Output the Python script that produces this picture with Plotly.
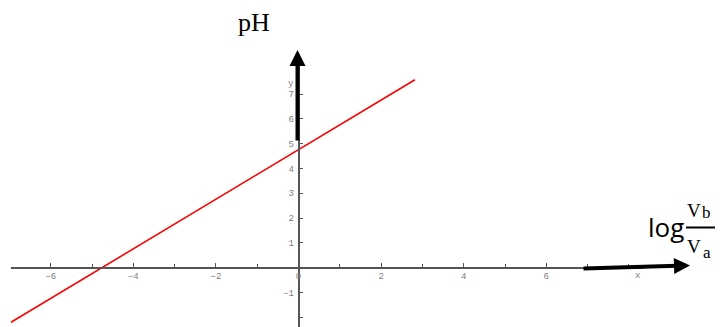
import plotly.graph_objects as go

# values
log_ratio = [-7.0, 2.82]
ph_values = [-2.24, 7.58]

x_major = [-6, -4, -2, 0, 2, 4, 6]
y_major = [-2, -1, 1, 2, 3, 4, 5, 6, 7]
y_labels = ["", "\u22121", "1", "2", "3", "4", "5", "6", "7"]

W, H = 723, 327
PAGE_OFFSET = 8  # the page body margin shifts the figure by this much


def px(x):
    return (x - PAGE_OFFSET) / W


def py(y):
    return 1 - (y - PAGE_OFFSET) / H


X0_PX, Y0_PX = 298.5, 267.7   # screen position of the origin
X_SCALE, Y_SCALE = 41.3, 24.8  # pixels per unit

x_left, x_right = 11, 643
y_top, y_bottom = 65, 335
x_dom = [px(x_left), px(x_right)]
y_dom = [max(py(y_bottom), 0.0), py(y_top)]
x_range = [(x_left - X0_PX) / X_SCALE, (x_right - X0_PX) / X_SCALE]
y_range = [(Y0_PX - (PAGE_OFFSET + H)) / Y_SCALE, (Y0_PX - y_top) / Y_SCALE]

TICK_FONT = dict(family="Liberation Mono, Courier New, monospace", size=9, color="#808080")
AXIS_COLOR = "#555"

fig = go.Figure(
    go.Scatter(
        x=log_ratio,
        y=ph_values,
        mode="lines",
        line=dict(color="#ff0000", width=1.6),
        hoverinfo="skip",
    )
)

fig.update_xaxes(
    domain=x_dom,
    range=x_range,
    anchor="free",
    position=py(Y0_PX),
    automargin=False,
    showgrid=False,
    zeroline=False,
    showline=True,
    linecolor=AXIS_COLOR,
    linewidth=1.5,
    ticks="inside",
    ticklen=4,
    tickcolor=AXIS_COLOR,
    tickwidth=1,
    tickvals=x_major,
    ticktext=[str(v).replace("-", "\u2212") for v in x_major],
    tickfont=TICK_FONT,
    minor=dict(dtick=1, tick0=1, ticks="inside", ticklen=3, tickcolor=AXIS_COLOR, showgrid=False),
)
fig.update_yaxes(
    domain=y_dom,
    range=y_range,
    anchor="free",
    position=px(X0_PX),
    automargin=False,
    showgrid=False,
    zeroline=False,
    showline=True,
    linecolor=AXIS_COLOR,
    linewidth=1.5,
    ticks="inside",
    ticklen=4,
    tickcolor=AXIS_COLOR,
    tickwidth=1,
    tickvals=y_major,
    ticktext=y_labels,
    tickfont=TICK_FONT,
    ticklabelstandoff=2,
)


def label(x, y, text, font, xanchor="center"):
    fig.add_annotation(x=px(x), y=py(y), xref="paper", yref="paper",
                       xanchor=xanchor, yanchor="middle",
                       text=text, showarrow=False, font=font)


# axis labels
label(291, 84, "y", TICK_FONT)
label(637, 276, "x", TICK_FONT)

# thick arrows drawn over the axes
fig.add_annotation(x=px(297.5), y=py(50), xref="paper", yref="paper",
                   ax=0, ay=92, text="", showarrow=True, arrowhead=2, arrowsize=0.8,
                   arrowwidth=4, arrowcolor="black")
fig.add_annotation(x=px(690), y=py(265.5), xref="paper", yref="paper",
                   ax=-108, ay=3, text="", showarrow=True, arrowhead=2, arrowsize=0.8,
                   arrowwidth=4, arrowcolor="black")

SERIF = "Liberation Serif, Times New Roman, serif"
label(254, 23, "pH", dict(family=SERIF, size=26, color="black"))

label(686, 227, "log", dict(family="Open Sans, Liberation Sans, sans-serif", size=26, color="black"),
      xanchor="right")
label(694, 210.6, "V", dict(family=SERIF, size=19, color="black"))
label(706.5, 212.3, "b", dict(family=SERIF, size=17, color="black"))
label(694, 246.6, "V", dict(family=SERIF, size=19, color="black"))
label(706.5, 252.3, "a", dict(family=SERIF, size=17, color="black"))
fig.add_shape(type="line", xref="paper", yref="paper",
              x0=px(686), x1=px(716), y0=py(227.5), y1=py(227.5),
              line=dict(color="black", width=2))

fig.update_layout(
    width=W,
    height=H,
    margin=dict(l=0, r=0, t=0, b=0),
    paper_bgcolor="white",
    plot_bgcolor="white",
    showlegend=False,
)

fig.write_html("out.html")
